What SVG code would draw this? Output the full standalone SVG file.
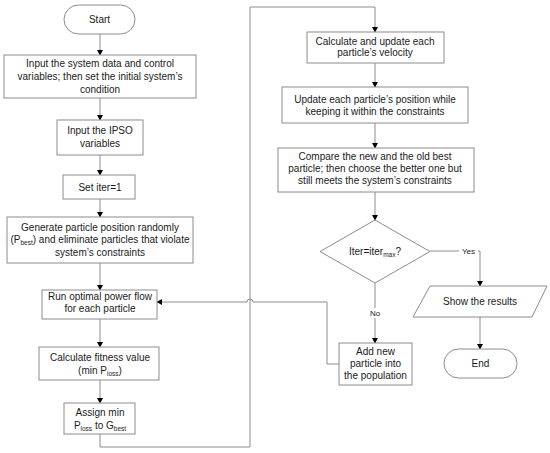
<svg xmlns="http://www.w3.org/2000/svg" width="550" height="453" viewBox="0 0 550 453">
<defs>
<style>
.n{fill:#fff;stroke:#8c8c8c;stroke-width:1}
.c{fill:none;stroke:#8c8c8c;stroke-width:1}
text{font-family:"Liberation Sans",Arial,sans-serif;font-size:10px;fill:#1a1a1a;text-anchor:middle}
.s{font-size:6.5px}
.lb{font-size:8px}
</style>
<marker id="ah" markerWidth="6" markerHeight="6" refX="5" refY="3" orient="auto" markerUnits="userSpaceOnUse">
<path d="M0,0 L5.5,3 L0,6 Z" fill="#000"/>
</marker>
</defs>
<rect width="550" height="453" fill="#fff"/>
<g id="connectors">
<path class="c" d="M100,34 V55" marker-end="url(#ah)"/>
<path class="c" d="M100,98 V120" marker-end="url(#ah)"/>
<path class="c" d="M100,155 V175" marker-end="url(#ah)"/>
<path class="c" d="M100,199 V217" marker-end="url(#ah)"/>
<path class="c" d="M100,263 V290" marker-end="url(#ah)"/>
<path class="c" d="M100,319 V347" marker-end="url(#ah)"/>
<path class="c" d="M100,380 V403" marker-end="url(#ah)"/>
<path class="c" d="M100,434 V447 H250 V7 H375 V32" marker-end="url(#ah)"/>
<path class="c" d="M375,63 V87" marker-end="url(#ah)"/>
<path class="c" d="M375,123 V148" marker-end="url(#ah)"/>
<path class="c" d="M375,192 V220" marker-end="url(#ah)"/>
<path class="c" d="M430,251 H480 V286" marker-end="url(#ah)"/>
<path class="c" d="M375,283 V343" marker-end="url(#ah)"/>
<path class="c" d="M339,364 H327 V302 H253 A3,3 0 0 0 247,302 H157" marker-end="url(#ah)"/>
<path class="c" d="M480,317 V349" marker-end="url(#ah)"/>
<rect x="459" y="246" width="19" height="10" fill="#fff"/>
<text class="lb" x="468.5" y="254">Yes</text>
<rect x="367" y="308" width="16" height="10" fill="#fff"/>
<text class="lb" x="375" y="316">No</text>
</g>
<g id="start">
<rect class="n" x="64" y="5" width="71" height="29" rx="14.5"/>
<text x="99.5" y="23">Start</text>
</g>
<g id="input-data">
<rect class="n" x="4" y="55" width="192" height="43"/>
<text x="100" y="67">Input the system data and control</text>
<text x="100" y="80">variables; then set the initial system’s</text>
<text x="100" y="93">condition</text>
</g>
<g id="input-ipso">
<rect class="n" x="57" y="120" width="86" height="35"/>
<text x="100" y="133.5">Input the IPSO</text>
<text x="100" y="146.5">variables</text>
</g>
<g id="set-iter">
<rect class="n" x="63" y="175" width="72" height="24"/>
<text x="100" y="190.5">Set iter=1</text>
</g>
<g id="generate">
<rect class="n" x="7" y="217" width="186" height="46"/>
<text x="100" y="230.5">Generate particle position randomly</text>
<text x="100" y="243">(P<tspan class="s" dy="2">best</tspan><tspan dy="-2">) and eliminate particles that violate</tspan></text>
<text x="100" y="255.5">system’s constraints</text>
</g>
<g id="run-opf">
<rect class="n" x="42" y="290" width="115" height="29"/>
<text x="100" y="299.5">Run optimal power flow</text>
<text x="100" y="311.5">for each particle</text>
</g>
<g id="fitness">
<rect class="n" x="39" y="347" width="120" height="33"/>
<text x="100" y="360.5">Calculate fitness value</text>
<text x="100" y="374">(min P<tspan class="s" dy="2">loss</tspan><tspan dy="-2">)</tspan></text>
</g>
<g id="assign">
<rect class="n" x="64" y="403" width="71" height="31"/>
<text x="100" y="415.5">Assign min</text>
<text x="100" y="428.5">P<tspan class="s" dy="2">loss</tspan><tspan dy="-2"> to G</tspan><tspan class="s" dy="2">best</tspan></text>
</g>
<g id="velocity">
<rect class="n" x="307" y="32" width="137" height="31"/>
<text x="375" y="44.5">Calculate and update each</text>
<text x="375" y="56">particle’s velocity</text>
</g>
<g id="position">
<rect class="n" x="282" y="87" width="186" height="36"/>
<text x="375" y="102.5">Update each particle’s position while</text>
<text x="375" y="114.5">keeping it within the constraints</text>
</g>
<g id="compare">
<rect class="n" x="278" y="148" width="196" height="44"/>
<text x="375" y="159.5">Compare the new and the old best</text>
<text x="375" y="171.5">particle; then choose the better one but</text>
<text x="375" y="184">still meets the system’s constraints</text>
</g>
<g id="decision">
<polygon class="n" points="375,220 430,251.5 375,283 320,251.5"/>
<text x="375" y="255">Iter=iter<tspan class="s" dy="2">max</tspan><tspan dy="-2">?</tspan></text>
</g>
<g id="show-results">
<polygon class="n" points="430,286 547,286 532,317 413,317"/>
<text x="480" y="305">Show the results</text>
</g>
<g id="end">
<rect class="n" x="444" y="349" width="73" height="29" rx="14.5"/>
<text x="480.5" y="367">End</text>
</g>
<g id="add-particle">
<rect class="n" x="339" y="343" width="73" height="42"/>
<text x="375.5" y="355">Add new</text>
<text x="375.5" y="367">particle into</text>
<text x="375.5" y="379">the population</text>
</g>
</svg>
